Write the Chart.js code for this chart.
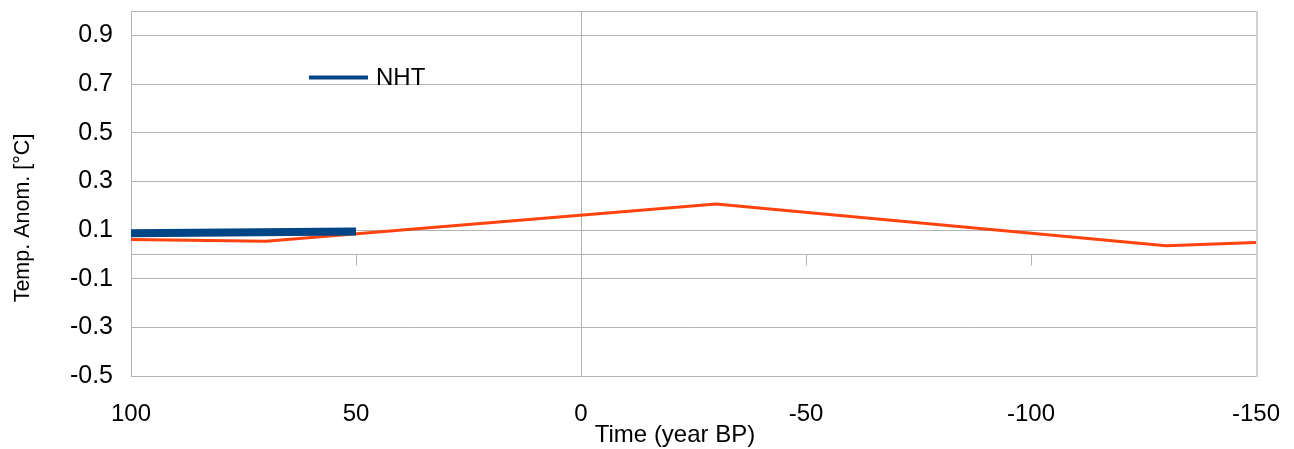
<!DOCTYPE html>
<html lang="en">
<head>
    <meta charset="UTF-8">
    <title>Temperature Anomaly</title>
    <script src="https://cdn.jsdelivr.net/npm/chart.js"></script>
    <style>
        body {
            margin: 0;
            background-color: #ffffff;
        }
        #chart {
            display: block;
        }
    </style>
</head>
<body>
    <canvas id="chart" width="1294" height="449"></canvas>

    <script>
        // reconstruction series (orange)
        const reconYears = [100, 70, -30, -130, -150];
        const reconTemps = [0.061, 0.054, 0.207, 0.035, 0.049];

        // NHT series (blue)
        const nhtYears = [100, 50];
        const nhtTemps = [0.087, 0.094];

        const xTicks = [100, 50, 0, -50, -100, -150];
        const yTicks = [-0.5, -0.3, -0.1, 0.1, 0.3, 0.5, 0.7, 0.9];

        const gridColor = '#b3b3b3';
        const fontFamily = '"Liberation Sans", Arial, sans-serif';

        // frame, zero axes, tick marks, legend and axis titles
        const decorations = {
            id: 'decorations',
            beforeDatasetsDraw(chart) {
                const { ctx, chartArea: a, scales: { x, y } } = chart;
                ctx.save();
                ctx.strokeStyle = gridColor;
                ctx.lineWidth = 1;
                const y0 = Math.round(y.getPixelForValue(0)) + 0.5;
                const x0 = Math.round(x.getPixelForValue(0)) + 0.5;
                ctx.beginPath();
                ctx.moveTo(a.left, y0);
                ctx.lineTo(a.right, y0);
                ctx.moveTo(x0, a.top);
                ctx.lineTo(x0, a.bottom);
                xTicks.forEach(v => {
                    const px = Math.round(x.getPixelForValue(v)) + 0.5;
                    ctx.moveTo(px, y0);
                    ctx.lineTo(px, y0 + 11);
                });
                ctx.stroke();
                // frame
                ctx.strokeRect(a.left + 0.5, a.top + 0.5, a.right - a.left, a.bottom - a.top);
                ctx.strokeStyle = '#d0d0d0';
                ctx.lineWidth = 2;
                ctx.beginPath();
                ctx.moveTo(a.right + 1, a.top);
                ctx.lineTo(a.right + 1, a.bottom + 1);
                ctx.stroke();
                ctx.restore();
            },
            afterDraw(chart) {
                const { ctx } = chart;
                ctx.save();
                // legend
                ctx.strokeStyle = '#004586';
                ctx.lineWidth = 4;
                ctx.beginPath();
                ctx.moveTo(309, 77.5);
                ctx.lineTo(368, 77.5);
                ctx.stroke();
                ctx.fillStyle = '#000000';
                ctx.font = '24px ' + fontFamily;
                ctx.textBaseline = 'middle';
                ctx.textAlign = 'left';
                ctx.fillText('NHT', 376, 78);
                // x title
                ctx.font = '24px ' + fontFamily;
                ctx.textAlign = 'center';
                ctx.fillText('Time (year BP)', 675, 435);
                // y title
                ctx.translate(23, 218);
                ctx.rotate(-Math.PI / 2);
                ctx.font = '21.5px ' + fontFamily;
                ctx.fillText('Temp. Anom. [°C]', 0, 0);
                ctx.restore();
            }
        };

        new Chart(document.getElementById('chart'), {
            type: 'scatter',
            data: {
                datasets: [
                    {
                        label: 'NHT',
                        data: nhtYears.map((yr, i) => ({ x: yr, y: nhtTemps[i] })),
                        showLine: true,
                        borderColor: '#004586',
                        borderWidth: 8,
                        pointRadius: 0,
                        order: 1
                    },
                    {
                        label: 'Reconstruction',
                        data: reconYears.map((yr, i) => ({ x: yr, y: reconTemps[i] })),
                        showLine: true,
                        borderColor: '#ff420e',
                        borderWidth: 3,
                        pointRadius: 0,
                        order: 2
                    }
                ]
            },
            options: {
                responsive: false,
                animation: false,
                layout: {
                    padding: { top: 11, right: 38, left: 0, bottom: 0 }
                },
                plugins: {
                    legend: { display: false },
                    tooltip: { enabled: false }
                },
                scales: {
                    x: {
                        type: 'linear',
                        reverse: true,
                        min: -150,
                        max: 100,
                        afterBuildTicks(scale) {
                            scale.ticks = xTicks.map(v => ({ value: v }));
                        },
                        afterFit(scale) {
                            scale.height = 73;
                            scale.paddingLeft = 0;
                            scale.paddingRight = 0;
                        },
                        grid: { display: false, drawTicks: false },
                        border: { display: false },
                        ticks: {
                            color: '#000000',
                            padding: 24,
                            maxRotation: 0,
                            font: { family: fontFamily, size: 24 }
                        }
                    },
                    y: {
                        min: -0.5,
                        max: 1.0,
                        afterBuildTicks(scale) {
                            scale.ticks = yTicks.map(v => ({ value: v }));
                        },
                        afterFit(scale) {
                            scale.width = 131;
                            scale.paddingTop = 0;
                            scale.paddingBottom = 0;
                        },
                        grid: { color: gridColor, drawTicks: false },
                        border: { display: false },
                        ticks: {
                            color: '#000000',
                            padding: 18,
                            font: { family: fontFamily, size: 25 },
                            callback: v => v.toFixed(1)
                        }
                    }
                }
            },
            plugins: [decorations]
        });
    </script>
</body>
</html>
